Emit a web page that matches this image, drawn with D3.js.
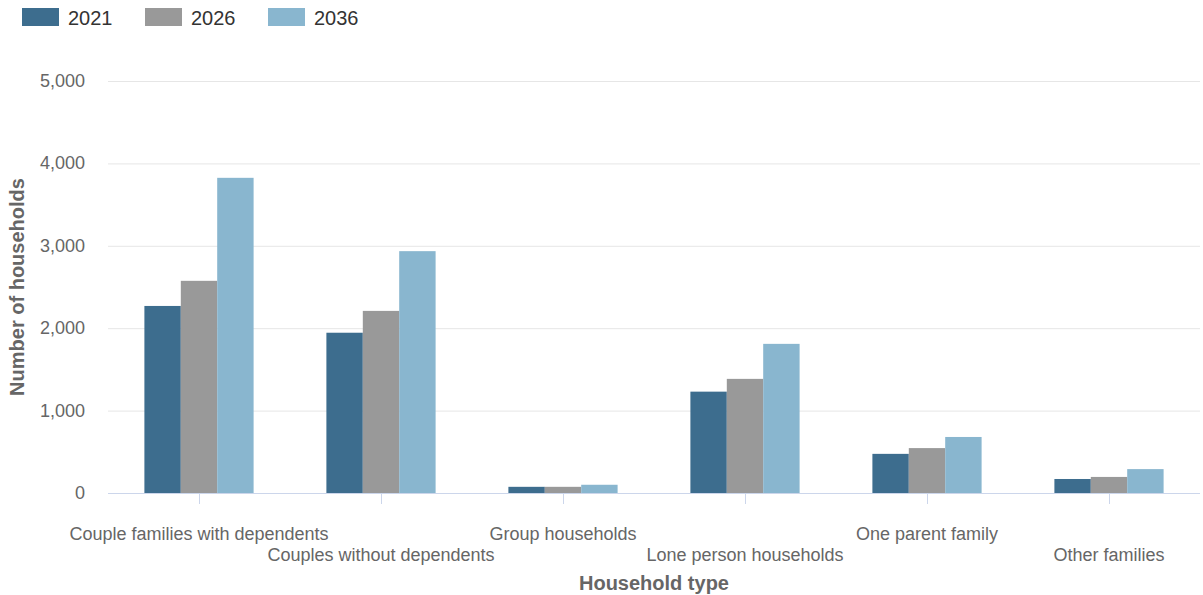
<!DOCTYPE html>
<html>
<head>
<meta charset="utf-8">
<script src="https://cdn.jsdelivr.net/npm/d3@7"></script>
<style>
  body { margin: 0; background: #fff; }
  svg { display: block; font-family: "Liberation Sans", Arial, sans-serif; }
</style>
</head>
<body>
<div id="chart"></div>
<script>
var categories = ["Couple families with dependents", "Couples without dependents", "Group households",
  "Lone person households", "One parent family", "Other families"];
var years = ["2021", "2026", "2036"];
var values2021 = [2270, 1945, 75, 1230, 475, 170];
var values2026 = [2575, 2210, 75, 1385, 545, 195];
var values2036 = [3825, 2935, 100, 1810, 680, 290];
var yTicks = [0, 1000, 2000, 3000, 4000, 5000];
var colors = ["#3d6d8e", "#999999", "#89b6cf"];

var series = [values2021, values2026, values2036];
var W = 1203, H = 595;
var m = {left: 108, right: 3, top: 81, bottom: 102};

var svg = d3.select("#chart").append("svg").attr("width", W).attr("height", H);

var x = d3.scaleBand().domain(categories).range([m.left, W - m.right]).padding(0);
var xs = d3.scaleBand().domain(years).range([x.bandwidth() * 0.2, x.bandwidth() * 0.8]).padding(0);
var y = d3.scaleLinear().domain([0, 5000]).range([H - m.bottom, m.top]);

// gridlines
svg.append("g").selectAll("line").data(yTicks.slice(1)).enter().append("line")
  .attr("x1", m.left).attr("x2", W - m.right)
  .attr("y1", function (d) { return y(d) + 0.5; }).attr("y2", function (d) { return y(d) + 0.5; })
  .style("stroke", "#e6e6e6");

// y labels
svg.append("g").selectAll("text").data(yTicks).enter().append("text")
  .attr("x", 85).attr("y", function (d) { return y(d) + 6; })
  .attr("text-anchor", "end")
  .style("font-size", "18px").style("fill", "#666")
  .text(function (d) { return d3.format(",")(d); });

// bars
var groups = svg.append("g").selectAll("g").data(categories).enter().append("g")
  .attr("transform", function (d) { return "translate(" + x(d) + ",0)"; });
groups.selectAll("rect").data(function (d, i) {
  return years.map(function (yr, j) { return {year: yr, v: series[j][i], c: colors[j]}; });
}).enter().append("rect")
  .attr("x", function (d) { return xs(d.year); })
  .attr("width", xs.bandwidth())
  .attr("y", function (d) { return y(d.v); })
  .attr("height", function (d) { return y(0) - y(d.v); })
  .style("fill", function (d) { return d.c; });

// x axis line and ticks
svg.append("line").attr("x1", m.left).attr("x2", W - m.right)
  .attr("y1", y(0) + 0.5).attr("y2", y(0) + 0.5).style("stroke", "#ccd6eb");
svg.append("g").selectAll("line").data(categories).enter().append("line")
  .attr("x1", function (d) { return Math.round(x(d) + x.bandwidth() / 2) + 0.5; })
  .attr("x2", function (d) { return Math.round(x(d) + x.bandwidth() / 2) + 0.5; })
  .attr("y1", y(0)).attr("y2", y(0) + 11)
  .style("stroke", "#ccd6eb");

// category labels, staggered
svg.append("g").selectAll("text").data(categories).enter().append("text")
  .attr("x", function (d) { return x(d) + x.bandwidth() / 2; })
  .attr("y", function (d, i) { return i % 2 ? 561 : 540; })
  .attr("text-anchor", "middle")
  .style("font-size", "18px").style("fill", "#666")
  .text(function (d) { return d; });

// axis titles
svg.append("text").attr("x", (m.left + W - m.right) / 2).attr("y", 590)
  .attr("text-anchor", "middle").style("font-size", "20px").style("font-weight", "bold").style("fill", "#666")
  .text("Household type");
svg.append("text").attr("transform", "translate(24," + y(2500) + ") rotate(-90)")
  .attr("text-anchor", "middle").style("font-size", "20px").style("font-weight", "bold").style("fill", "#666")
  .text("Number of households");

// legend
var leg = svg.append("g").selectAll("g").data(years).enter().append("g")
  .attr("transform", function (d, i) { return "translate(" + (22 + i * 123) + ",8)"; });
leg.append("rect").attr("width", 37).attr("height", 18).style("fill", function (d, i) { return colors[i]; });
leg.append("text").attr("x", 46).attr("y", 17).style("font-size", "20px").style("fill", "#333")
  .text(function (d) { return d; });
</script>
</body>
</html>
